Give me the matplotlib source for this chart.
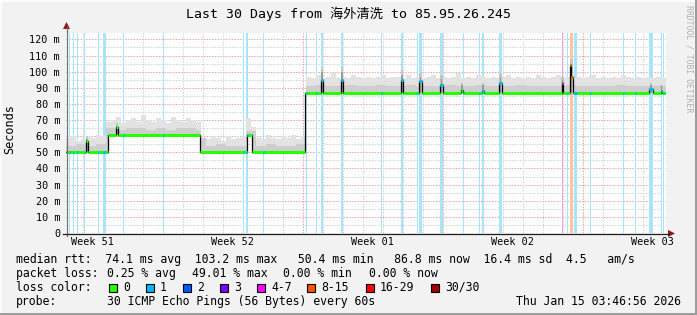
import numpy as np
import pandas as pd
import matplotlib
matplotlib.use('Agg')
import matplotlib.pyplot as plt
import matplotlib.dates as mdates
from matplotlib.patches import Rectangle, Polygon

# ---------------- data ----------------
START = pd.Timestamp('2025-12-16 03:46:56')
END = pd.Timestamp('2026-01-15 03:46:56')
SPAN_DAYS = 30

title = 'Last 30 Days from 海外清洗 to 85.95.26.245'

# median rtt (ms) as step function: change points in days since START
median_days = [0, 1.0, 1.1, 2.1, 2.5, 2.6, 6.7, 9.05, 9.3, 11.95,
               12.75, 12.85, 13.75, 13.85, 16.75, 16.85, 17.65, 17.8, 18.7, 18.85,
               19.75, 19.85, 20.8, 20.9, 21.65, 21.8, 24.8, 24.85, 25.2, 25.25,
               25.35, 29.15, 29.35, 29.75, 29.8]
median_ms = [50.5, 57, 50.5, 60.5, 65.5, 60.5, 50.5, 60.5, 50.5, 86.8,
             95, 86.8, 95, 86.8, 95, 86.8, 94, 86.8, 92, 86.8,
             88.5, 86.8, 88, 86.8, 93, 86.8, 93, 86.8, 104, 97,
             86.8, 89, 86.8, 88, 86.8]

# smoke: highest ping per 6 h bin (ms)
smoke_top_ms = [59, 60, 57, 58, 60, 59, 61, 60,
                69, 70, 72, 68, 70, 71, 69, 73, 70, 69, 71, 70, 68, 72, 70, 69, 71, 70, 69,
                59, 58, 60, 59, 57, 60, 58, 59, 60, 71, 66, 59, 58, 61, 59, 58, 60, 59, 61, 58, 60,
                97, 96, 98, 96, 97, 99, 96, 97, 96, 98, 97, 96,
                97, 96, 97, 98, 96, 97, 97, 96, 98, 96, 97, 96,
                97, 98, 96, 97, 96, 97, 99, 96, 97, 96, 98, 97,
                96, 97, 96, 97, 98, 96, 97, 96, 97, 96, 98, 97,
                96, 97, 98, 96, 97, 96, 97, 96, 97, 98, 96, 97,
                96, 97, 96, 98, 97, 96, 97, 96, 97, 96, 97, 96]
# smoke: upper quartile ping per 12 h bin (ms)
smoke_mid_ms = [54, 55, 54, 55,
                65, 64, 65, 65, 64, 65, 64, 65, 65, 64,
                54, 55, 54, 54, 63, 54, 55, 54, 54, 55,
                91, 92, 91, 91, 92, 91, 91, 92, 91, 91, 92, 91,
                91, 91, 92, 91, 91, 92, 91, 91, 91, 92, 91, 91,
                91, 91, 92, 91, 91, 91, 91, 92, 91, 91, 91, 91]

# smoke columns at latency spikes
spike_days = [1.05, 2.55, 12.8, 13.8, 16.8, 17.72, 18.78, 19.8, 20.85, 21.72, 24.82, 25.27, 29.25, 29.77]
spike_top_ms = [60, 68, 103, 103, 101, 99, 98, 93, 93, 99, 97, 108, 93, 92]

# packet loss events: start (days since START), duration (days), loss class index
loss_days = [0.15, 0.35, 0.55, 0.9, 1.6, 1.85, 2.85, 4.85, 8.85, 9.0, 9.85, 12.0, 12.5, 12.75,
             13.75, 15.75, 16.75, 17.55, 17.65, 18.7, 19.85, 20.65, 20.8, 21.65, 24.8, 25.05,
             25.2, 25.4, 26.2, 27.85, 28.45, 29.15, 29.75, 29.85]
loss_dur = [0.06, 0.06, 0.06, 0.06, 0.06, 0.15, 0.06, 0.06, 0.06, 0.1, 0.06, 0.06, 0.06, 0.1,
            0.1, 0.06, 0.1, 0.06, 0.15, 0.15, 0.06, 0.06, 0.1, 0.15, 0.06, 0.06,
            0.15, 0.15, 0.06, 0.06, 0.06, 0.2, 0.06, 0.06]
loss_cls = [1, 1, 1, 1, 1, 1, 1, 1, 1, 1, 1, 1, 1, 1,
            1, 1, 1, 1, 1, 1, 1, 1, 1, 1, 4, 1,
            5, 1, 1, 1, 1, 1, 1, 1]

loss_labels = ['0', '1', '2', '3', '4-7', '8-15', '16-29', '30/30']
loss_colors = ['#26ff00', '#00b8ff', '#0059ff', '#7e00ff', '#ff00ff', '#ff5500', '#ff0000', '#a10000']
loss_bar_colors = ['#c8ffb8', '#a8e4fa', '#a6c4ff', '#d4a6ff', '#f0a0f0', '#fcc4a4', '#ffa6a6', '#e0a6a6']

ytick_ms = [0, 10, 20, 30, 40, 50, 60, 70, 80, 90, 100, 110, 120]
ytick_labels = ['0', '10 m', '20 m', '30 m', '40 m', '50 m', '60 m', '70 m', '80 m', '90 m',
                '100 m', '110 m', '120 m']
week_labels = ['Week 51', 'Week 52', 'Week 01', 'Week 02', 'Week 03']
week_starts = ['2025-12-14', '2025-12-21', '2025-12-28', '2026-01-04', '2026-01-11']

legend_rows = [
    [(16, 'median rtt:  74.1 ms avg  103.2 ms max   50.4 ms min   86.8 ms now  16.4 ms sd  4.5   am/s')],
    [(16, 'packet loss:'), (107, '0.25 % avg'), (192, '49.01 % max'), (283, '0.00 % min'),
     (369, '0.00 % now')],
    [(16, 'loss color:')],
    [(16, 'probe:'), (107, '30 ICMP Echo Pings (56 Bytes) every 60s')],
]
stamp = 'Thu Jan 15 03:46:56 2026'

# ---------------- layout ----------------
W, H = 697, 315
PL, PR, PB, PT = 66, 666, 233, 33.3
YMAX = 123.8
MONO = ['DejaVu Sans Mono', 'Noto Sans CJK SC']
BG = '#f2f2f2'

fig = plt.figure(figsize=(W / 100, H / 100), dpi=100, facecolor=BG)
ax = fig.add_axes([PL / W, (H - PB) / H, (PR - PL) / W, (PB - PT) / H])
ax.set_facecolor('white')
x0 = mdates.date2num(START.to_pydatetime())
ax.set_xlim(x0, x0 + SPAN_DAYS)
ax.set_ylim(0, YMAX)
for s in ax.spines.values():
    s.set_visible(False)


def step_at(bp, vals, d):
    idx = np.searchsorted(np.asarray(bp), d, side='right') - 1
    idx = np.clip(idx, 0, len(vals) - 1)
    return np.asarray(vals, dtype=float)[idx]


# grid
dot = (0, (1.4, 1.4))
for v in np.arange(5, 121, 5):
    major = (v % 10 == 0)
    ax.axhline(v, color='#eba4a4' if major else '#d2d2d2', lw=0.72, ls=dot, zorder=0.5)
days_grid = pd.date_range(START.ceil('D'), END, freq='D')
for d in days_grid:
    sunday = d.dayofweek == 6
    ax.axvline(mdates.date2num(d.to_pydatetime()), color='#eba4a4' if sunday else '#d2d2d2',
               lw=0.72, ls=dot, zorder=0.5)

# loss bars
for d, w, c in zip(loss_days, loss_dur, loss_cls):
    ax.axvspan(x0 + d, x0 + d + w, color=loss_bar_colors[c], lw=0, zorder=1, antialiased=False)

# smoke
top_edges = np.arange(len(smoke_top_ms)) * 0.25
mid_edges = np.arange(len(smoke_mid_ms)) * 0.5
xs = np.unique(np.concatenate([median_days, top_edges, mid_edges, [SPAN_DAYS]]))
med = step_at(median_days, median_ms, xs)
top = np.maximum(step_at(top_edges, smoke_top_ms, xs), med)
mid = np.minimum(np.maximum(step_at(mid_edges, smoke_mid_ms, xs), med), top)
ax.fill_between(x0 + xs, med, top, step='post', color='#e2e2e2', lw=0, zorder=2)
ax.fill_between(x0 + xs, med, mid, step='post', color='#cecece', lw=0, zorder=2.1)

# spike columns
for d, t in zip(spike_days, spike_top_ms):
    m = step_at(median_days, median_ms, d - 0.12)
    ax.add_patch(Rectangle((x0 + d - 0.07, m), 0.14, t - m, color='#c4c4c4', lw=0, zorder=2.2))
    ax.add_patch(Rectangle((x0 + d - 0.035, m), 0.07, (t - m) * 0.8, color='#9a9a9a', lw=0, zorder=2.3))

# median line: black steps + loss coloured segments
md = list(median_days) + [SPAN_DAYS]
ax.step(x0 + np.asarray(md), list(median_ms) + [median_ms[-1]], where='post', color='black',
        lw=0.9, zorder=4)
for i in range(len(median_ms)):
    ax.hlines(median_ms[i], x0 + md[i], x0 + md[i + 1], color=loss_colors[0], lw=2.2, zorder=5)
for d, w, c in zip(loss_days, loss_dur, loss_cls):
    pts = [d] + [b for b in median_days if d < b < d + w] + [d + w]
    for a, b in zip(pts[:-1], pts[1:]):
        ax.hlines(step_at(median_days, median_ms, a), x0 + a, x0 + b, color=loss_colors[c],
                  lw=2.2, zorder=6)

# ticks
ax.set_yticks(ytick_ms)
ax.set_yticklabels(ytick_labels, family=MONO, fontsize=7.3)
week_pos = [mdates.date2num((pd.Timestamp(s) + pd.Timedelta(hours=84)).to_pydatetime())
            for s in week_starts]
ax.set_xticks(week_pos)
ax.set_xticklabels(week_labels, family=MONO, fontsize=7.3)
ax.tick_params(axis='y', length=0, pad=4.3)
ax.tick_params(axis='x', length=0, pad=3.0)

# ---------------- overlay for frame, axis arrows, legend ----------------
ov = fig.add_axes([0, 0, 1, 1], zorder=10)
ov.set_xlim(0, W)
ov.set_ylim(H, 0)
ov.axis('off')
ov.patch.set_alpha(0)

# 3d frame
ov.add_patch(Rectangle((0, 0), W, 1.5, color='#fcfcfc', lw=0))
ov.add_patch(Rectangle((0, 0), 1.5, H, color='#fcfcfc', lw=0))
ov.add_patch(Rectangle((W - 2.5, 0), 2.5, H, color='#9c9c9c', lw=0))
ov.add_patch(Rectangle((0, H - 2.5), W, 2.5, color='#9c9c9c', lw=0))

# axes lines and arrows
ov.plot([PL + 0.5, PL + 0.5], [PB + 3, 27], color='#707070', lw=0.9)
ov.plot([PL - 3, PR + 3], [PB + 0.5, PB + 0.5], color='#202020', lw=0.9)
ov.add_patch(Polygon([[PL + 0.5 - 3.5, 29], [PL + 0.5 + 3.5, 29], [PL + 0.5, 22]], color='#8b1a1a', lw=0))
ov.add_patch(Polygon([[PR + 2, PB + 0.5 - 3.5], [PR + 2, PB + 0.5 + 3.5], [PR + 9, PB + 0.5]],
                     color='#8b1a1a', lw=0))

ov.text(W / 2, 13.5, title, ha='center', va='center', family=MONO, fontsize=9.5, color='black')
ov.text(10, 129, 'Seconds', rotation=90, ha='center', va='center', family=MONO, fontsize=8.6)
ov.text(688.5, 5, 'RRDTOOL / TOBI OETIKER', rotation=-90, ha='center', va='top', family=MONO,
        fontsize=5.9, color='#b0b0b0')

row_y = [259.5, 273.5, 287.5, 301.5]
for ry, row in zip(row_y, legend_rows):
    for x, t in row:
        ov.text(x, ry, t, ha='left', va='center', family=MONO, fontsize=8.3, color='black')
ov.text(681, row_y[3], stamp, ha='right', va='center', family=MONO, fontsize=8.3, color='black')

sq_x = [109, 146, 183, 220, 257, 307, 366, 431]
for x, lab, col in zip(sq_x, loss_labels, loss_colors):
    ov.add_patch(Rectangle((x, row_y[2] - 4), 7.5, 8, facecolor=col, edgecolor='black', lw=0.8))
    ov.text(x + 14, row_y[2], lab, ha='left', va='center', family=MONO, fontsize=8.3)

fig.savefig('out.png', dpi=100, facecolor=BG)
